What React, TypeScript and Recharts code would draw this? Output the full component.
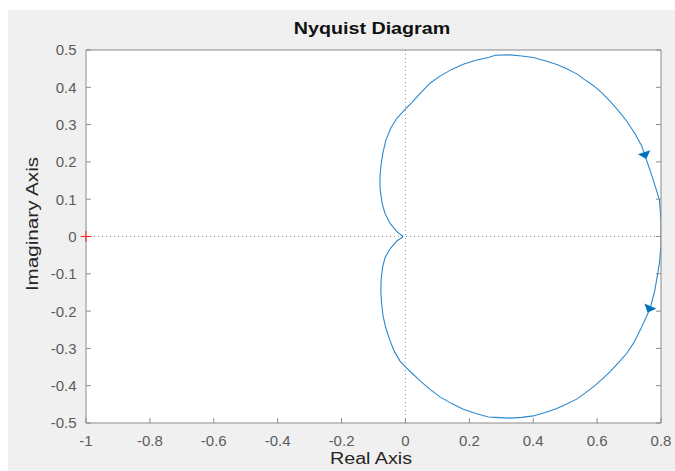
import {
  CartesianGrid,
  ComposedChart,
  Line,
  ReferenceDot,
  ReferenceLine,
  XAxis,
  YAxis,
} from "recharts";

// Nyquist curve, positive-frequency branch (0.8 -> origin)
const lowerRe = [
  0.8, 0.8, 0.795, 0.781, 0.766, 0.735, 0.714, 0.693, 0.667, 0.641, 0.615, 0.588,
  0.562, 0.536, 0.505, 0.474, 0.437, 0.4, 0.364, 0.327, 0.281, 0.26, 0.223, 0.181,
  0.145, 0.108, 0.077, 0.046, 0.02, -0.001, -0.017, -0.036, -0.05, -0.062, -0.07,
  -0.075, -0.077, -0.076, -0.072, -0.064, -0.048, -0.027, -0.007,
];
const lowerIm = [
  0, -0.023, -0.072, -0.143, -0.193, -0.251, -0.286, -0.313, -0.338, -0.362,
  -0.383, -0.403, -0.42, -0.436, -0.449, -0.461, -0.472, -0.481, -0.485, -0.487,
  -0.485, -0.484, -0.475, -0.463, -0.448, -0.43, -0.41, -0.387, -0.366, -0.349,
  -0.334, -0.306, -0.275, -0.244, -0.213, -0.177, -0.146, -0.115, -0.084, -0.057,
  -0.033, -0.012, 0,
];

// negative-frequency branch (origin -> 0.8)
const upperRe = [
  -0.007, -0.027, -0.048, -0.064, -0.073, -0.079, -0.08, -0.077, -0.071, -0.061,
  -0.046, -0.027, -0.001, 0.02, 0.046, 0.077, 0.108, 0.145, 0.181, 0.223, 0.26,
  0.281, 0.327, 0.364, 0.4, 0.442, 0.474, 0.505, 0.536, 0.562, 0.588, 0.615, 0.641,
  0.667, 0.693, 0.719, 0.74, 0.776, 0.795, 0.8, 0.8,
];
const upperIm = [
  0, 0.013, 0.035, 0.062, 0.089, 0.125, 0.156, 0.187, 0.223, 0.259, 0.29, 0.317,
  0.341, 0.359, 0.384, 0.411, 0.43, 0.448, 0.462, 0.473, 0.48, 0.486, 0.487, 0.484,
  0.48, 0.47, 0.461, 0.45, 0.436, 0.42, 0.405, 0.385, 0.362, 0.337, 0.309, 0.275,
  0.242, 0.151, 0.098, 0.044, 0,
];

const arrowRe = [0.75, 0.763];
const arrowIm = [0.218, -0.194];
const criticalRe = [-1];
const criticalIm = [0];

const xTicks = [-1, -0.8, -0.6, -0.4, -0.2, 0, 0.2, 0.4, 0.6, 0.8];
const yTicks = [-0.5, -0.4, -0.3, -0.2, -0.1, 0, 0.1, 0.2, 0.3, 0.4, 0.5];

const lower = lowerRe.map((x, i) => ({ x, y: lowerIm[i] }));
const upper = upperRe.map((x, i) => ({ x, y: upperIm[i] }));

// heading of each arrow head on screen, degrees (y down)
const ARROW_HEADING = [72, 114];

const FONT = '"Liberation Sans", Arial, sans-serif';
const AXIS = "#8a8a8a";
const TICK_TEXT = "#5c5c5c";
const CURVE = "#2d88cd";

function XTick(props: any) {
  const { x, y, payload } = props;
  return (
    <text x={x} y={y + 18} dy="0.36em" textAnchor="middle" fontSize={15} fill={TICK_TEXT} fontFamily={FONT}>
      {String(payload.value)}
    </text>
  );
}

function YTick(props: any) {
  const { x, y, payload } = props;
  return (
    <text x={x - 9.5} y={y} dy="0.36em" textAnchor="end" fontSize={15} fill={TICK_TEXT} fontFamily={FONT}>
      {String(payload.value)}
    </text>
  );
}

const noLabel = () => <g />;

function ArrowHead({ cx, cy, angle }: any) {
  return (
    <polygon
      points="4,0 -3,-6.5 -3,6.5"
      transform={`translate(${cx},${cy}) rotate(${angle})`}
      fill="#0072BD"
    />
  );
}

function PlusMark({ cx, cy }: any) {
  return (
    <g stroke="#ff2020" strokeWidth={1}>
      <line x1={cx - 5.5} y1={cy} x2={cx + 5.5} y2={cy} />
      <line x1={cx} y1={cy - 5.5} x2={cx} y2={cy + 5.5} />
    </g>
  );
}

export default function App() {
  return (
    <div
      style={{
        position: "absolute",
        left: 8,
        top: 10,
        width: 667,
        height: 461,
        background: "#f0f0f0",
        fontFamily: FONT,
      }}
    >
      <ComposedChart width={667} height={461} margin={{ top: 39, right: 13, bottom: 18, left: 18 }}>
        <CartesianGrid fill="#ffffff" horizontal={false} vertical={false} stroke="none" />
        <XAxis
          type="number"
          dataKey="x"
          domain={[-1, 0.8]}
          allowDataOverflow
          ticks={xTicks}
          interval={0}
          height={30}
          stroke={AXIS}
          tickSize={-5}
          tickMargin={5}
          tick={<XTick />}
        />
        <XAxis
          xAxisId="top"
          orientation="top"
          type="number"
          domain={[-1, 0.8]}
          allowDataOverflow
          ticks={xTicks}
          interval={0}
          height={1}
          stroke={AXIS}
          tickSize={-5}
          tick={noLabel}
        />
        <YAxis
          type="number"
          domain={[-0.5, 0.5]}
          allowDataOverflow
          ticks={yTicks}
          interval={0}
          width={60}
          stroke={AXIS}
          tickSize={-5}
          tickMargin={5}
          tick={<YTick />}
        />
        <YAxis
          yAxisId="right"
          orientation="right"
          type="number"
          domain={[-0.5, 0.5]}
          allowDataOverflow
          ticks={yTicks}
          interval={0}
          width={1}
          stroke={AXIS}
          tickSize={-5}
          tick={noLabel}
        />
        <ReferenceLine x={0} stroke="#8c8c8c" strokeDasharray="1 3" />
        <ReferenceLine y={0} stroke="#8c8c8c" strokeDasharray="1 3" />
        <Line
          data={lower}
          dataKey="y"
          type="linear"
          stroke={CURVE}
          strokeWidth={1.1}
          dot={false}
          activeDot={false}
          isAnimationActive={false}
        />
        <Line
          data={upper}
          dataKey="y"
          type="linear"
          stroke={CURVE}
          strokeWidth={1.1}
          dot={false}
          activeDot={false}
          isAnimationActive={false}
        />
        {arrowRe.map((re, i) => (
          <ReferenceDot
            key={i}
            x={re}
            y={arrowIm[i]}
            shape={(p: any) => <ArrowHead {...p} angle={ARROW_HEADING[i]} />}
          />
        ))}
        {criticalRe.map((re, i) => (
          <ReferenceDot key={"c" + i} x={re} y={criticalIm[i]} shape={(p: any) => <PlusMark {...p} />} />
        ))}
      </ComposedChart>
      <div
        style={{
          position: "absolute",
          left: 363.5,
          top: 18.7,
          transform: "translate(-50%, -50%) scaleX(1.23)",
          fontSize: 16,
          lineHeight: "16px",
          fontWeight: "bold",
          color: "#111",
          whiteSpace: "nowrap",
        }}
      >
        Nyquist Diagram
      </div>
      <div
        style={{
          position: "absolute",
          left: 363,
          top: 449,
          transform: "translate(-50%, -50%) scaleX(1.23)",
          fontSize: 16,
          lineHeight: "16px",
          color: "#262626",
          whiteSpace: "nowrap",
        }}
      >
        Real Axis
      </div>
      <div
        style={{
          position: "absolute",
          left: 25,
          top: 214,
          transform: "translate(-50%, -50%) rotate(-90deg) scaleX(1.29)",
          fontSize: 16,
          lineHeight: "16px",
          color: "#262626",
          whiteSpace: "nowrap",
        }}
      >
        Imaginary Axis
      </div>
    </div>
  );
}
